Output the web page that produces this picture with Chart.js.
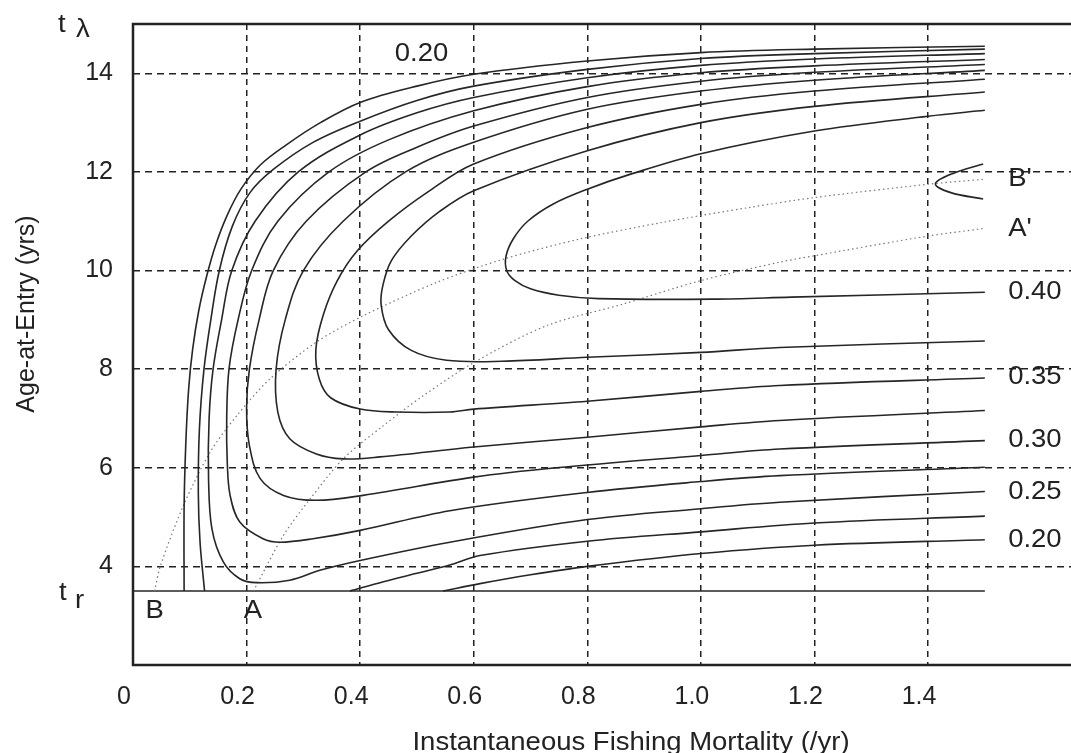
<!DOCTYPE html>
<html>
<head>
<meta charset="utf-8">
<script src="https://cdn.jsdelivr.net/npm/chart.js@4.4.0/dist/chart.umd.min.js"></script>
<style>
  html, body { margin: 0; padding: 0; background: #fff; }
  #wrap { width: 1071px; height: 753px; }
</style>
</head>
<body>
<div id="wrap"><canvas id="ypr" width="1071" height="753"></canvas></div>
<script>
// axis ticks
const xTicks = [0, 0.2, 0.4, 0.6, 0.8, 1.0, 1.2, 1.4];
const yTicks = [4, 6, 8, 10, 12, 14];
const tr = 3.5;

// yield-per-recruit isopleths, points are [F, age-at-entry]
const iso20a = [[1.5,14.55],[1.2,14.49],[1.0,14.42],[0.8,14.25],[0.6,13.98],[0.5,13.74],[0.4,13.41],[0.33,13.0],[0.27,12.55],[0.225,12.15],[0.19,11.65],[0.165,11.1],[0.145,10.5],[0.13,9.9],[0.116,9.2],[0.105,8.4],[0.098,7.6],[0.093,6.5],[0.09,5.2],[0.09,3.5]];
const iso20b = [[0.546,3.5],[0.611,3.65],[0.7,3.83],[0.8,4.0],[1.0,4.26],[1.2,4.43],[1.5,4.54]];
const iso225a = [[1.5,14.49],[1.2,14.4],[1.0,14.3],[0.8,14.08],[0.6,13.74],[0.5,13.45],[0.4,13.03],[0.317,12.6],[0.247,12.05],[0.206,11.58],[0.175,10.9],[0.152,10.0],[0.137,9.0],[0.125,8.0],[0.117,6.8],[0.115,5.5],[0.118,4.5],[0.126,3.5]];
const iso225b = [[0.382,3.5],[0.441,3.69],[0.5,3.86],[0.558,4.03],[0.611,4.22],[0.8,4.51],[1.0,4.7],[1.2,4.88],[1.5,5.02]];
const iso25 = [[1.5,14.4],[1.2,14.29],[1.0,14.16],[0.8,13.91],[0.6,13.51],[0.5,13.2],[0.4,12.75],[0.291,12.0],[0.215,11.0],[0.174,10.0],[0.156,9.0],[0.141,8.0],[0.134,7.0],[0.133,5.8],[0.139,4.76],[0.159,4.09],[0.188,3.75],[0.218,3.67],[0.276,3.72],[0.329,3.92],[0.4,4.12],[0.558,4.49],[0.8,4.95],[1.0,5.17],[1.139,5.3],[1.5,5.52]];
const iso275 = [[1.5,14.28],[1.2,14.15],[1.0,14.01],[0.8,13.73],[0.6,13.24],[0.45,12.65],[0.345,12.0],[0.255,11.0],[0.209,10.0],[0.185,9.0],[0.169,8.0],[0.165,7.0],[0.166,6.11],[0.171,5.44],[0.188,4.9],[0.229,4.56],[0.259,4.49],[0.317,4.56],[0.4,4.73],[0.558,5.13],[0.8,5.5],[1.0,5.72],[1.139,5.84],[1.5,6.01]];
const iso30 = [[1.5,14.18],[1.2,14.02],[1.0,13.84],[0.8,13.51],[0.6,12.93],[0.5,12.5],[0.41,12.0],[0.305,11.0],[0.247,10.0],[0.222,9.0],[0.205,8.0],[0.2,7.2],[0.205,6.45],[0.224,5.78],[0.265,5.44],[0.323,5.34],[0.405,5.44],[0.6,5.81],[0.745,6.0],[1.0,6.25],[1.139,6.38],[1.5,6.55]];
const iso325 = [[1.5,14.06],[1.2,13.86],[1.0,13.64],[0.8,13.27],[0.6,12.6],[0.48,12.0],[0.37,11.0],[0.3,10.0],[0.268,9.0],[0.252,8.0],[0.255,7.13],[0.276,6.59],[0.323,6.28],[0.37,6.18],[0.435,6.22],[0.6,6.42],[0.8,6.62],[1.0,6.83],[1.139,6.96],[1.5,7.16]];
const iso35 = [[1.5,13.88],[1.2,13.64],[1.0,13.37],[0.8,12.9],[0.6,12.16],[0.52,11.6],[0.45,11.0],[0.395,10.4],[0.36,9.8],[0.335,9.1],[0.322,8.4],[0.328,7.8],[0.348,7.42],[0.4,7.19],[0.464,7.13],[0.558,7.13],[0.6,7.19],[0.8,7.35],[1.0,7.55],[1.139,7.67],[1.5,7.82]];
const iso375 = [[1.5,13.62],[1.2,13.33],[1.0,13.0],[0.8,12.43],[0.6,11.62],[0.54,11.2],[0.49,10.7],[0.455,10.2],[0.44,9.7],[0.437,9.3],[0.45,8.8],[0.49,8.38],[0.552,8.18],[0.65,8.16],[0.8,8.24],[1.0,8.34],[1.139,8.44],[1.5,8.57]];
const iso40 = [[1.5,13.25],[1.4,13.13],[1.2,12.83],[1.0,12.37],[0.875,11.95],[0.8,11.65],[0.74,11.35],[0.695,11.0],[0.67,10.65],[0.657,10.3],[0.658,10.0],[0.672,9.8],[0.7,9.63],[0.75,9.5],[0.82,9.43],[1.02,9.42],[1.159,9.46],[1.5,9.56]];
const iso425 = [[1.497,12.16],[1.444,11.97],[1.413,11.76],[1.44,11.58],[1.497,11.45]];

// eumetric curves (dotted)
const curveB = [[0.038,3.5],[0.048,4.0],[0.089,5.24],[0.136,6.32],[0.183,7.06],[0.241,7.8],[0.323,8.55],[0.405,9.08],[0.535,9.76],[0.652,10.23],[0.787,10.64],[0.934,10.98],[1.086,11.28],[1.2,11.48],[1.4,11.75],[1.497,11.85]];
const curveA = [[0.212,3.5],[0.265,4.63],[0.312,5.37],[0.37,6.18],[0.437,6.82],[0.511,7.46],[0.601,8.14],[0.728,8.88],[0.863,9.32],[0.998,9.79],[1.139,10.17],[1.2,10.3],[1.4,10.7],[1.497,10.85]];

const recruitLine = [[0, tr], [1.5, tr]];

// text annotations at data positions
const isoLabels = [
  { text: '0.20', x: 0.461, y: 14.38 },
  { text: "B'", x: 1.541, y: 11.85 },
  { text: "A'", x: 1.541, y: 10.84 },
  { text: '0.40', x: 1.541, y: 9.56 },
  { text: '0.35', x: 1.541, y: 7.84 },
  { text: '0.30', x: 1.541, y: 6.57 },
  { text: '0.25', x: 1.541, y: 5.51 },
  { text: '0.20', x: 1.541, y: 4.54 }
];
const endLabels = [
  { text: 'B', x: 0.038, y: 3.09 },
  { text: 'A', x: 0.211, y: 3.09 }
];

const FONT = "'Liberation Sans', Arial, sans-serif";
const INK = '#222';

const toXY = (pts) => pts.map(([x, y]) => ({ x, y }));

const solid = (pts) => ({
  data: toXY(pts),
  showLine: true,
  pointRadius: 0,
  borderColor: '#262626',
  borderWidth: 1.6,
  tension: 0.35,
});

const dotted = (pts) => ({
  data: toXY(pts),
  showLine: true,
  pointRadius: 0,
  borderColor: '#777',
  borderWidth: 1.2,
  borderDash: [1.5, 3],
  tension: 0.3,
});

const datasets = [
  iso20a, iso20b, iso225a, iso225b, iso25, iso275, iso30,
  iso325, iso35, iso375, iso40, iso425,
].map(solid);
datasets.push(dotted(curveB), dotted(curveA));
datasets.push({ ...solid(recruitLine), tension: 0 });

// draw text stretched a little horizontally, like the scanned figure
function stretchedText(ctx, text, x, y, align) {
  ctx.save();
  ctx.translate(x, y);
  ctx.scale(1.1, 1);
  ctx.textAlign = align;
  ctx.fillText(text, 0, 0);
  ctx.restore();
}

const annotations = {
  id: 'annotations',
  afterDraw(chart) {
    const { ctx, chartArea: area, scales: { x, y } } = chart;
    ctx.save();

    // plot frame (right side runs off the figure)
    ctx.strokeStyle = INK;
    ctx.lineWidth = 2.5;
    ctx.beginPath();
    ctx.moveTo(chart.width, area.top);
    ctx.lineTo(area.left, area.top);
    ctx.lineTo(area.left, area.bottom);
    ctx.lineTo(chart.width, area.bottom);
    ctx.stroke();

    ctx.fillStyle = INK;
    ctx.font = `25px ${FONT}`;
    ctx.textBaseline = 'middle';
    isoLabels.forEach((l) => {
      stretchedText(ctx, l.text, x.getPixelForValue(l.x), y.getPixelForValue(l.y), 'left');
    });
    endLabels.forEach((l) => {
      stretchedText(ctx, l.text, x.getPixelForValue(l.x), y.getPixelForValue(l.y), 'center');
    });

    // t-lambda and t-r marks
    ctx.textBaseline = 'alphabetic';
    const top = y.getPixelForValue(15);
    stretchedText(ctx, 't', area.left - 75, top + 8, 'left');
    stretchedText(ctx, 'λ', area.left - 57, top + 13, 'left');
    const trPx = y.getPixelForValue(tr);
    stretchedText(ctx, 't', area.left - 74, trPx + 9, 'left');
    stretchedText(ctx, 'r', area.left - 58, trPx + 17, 'left');

    // axis titles
    stretchedText(ctx, 'Instantaneous Fishing Mortality (/yr)', 631, 750, 'center');
    ctx.save();
    ctx.translate(27, 314);
    ctx.rotate(-Math.PI / 2);
    ctx.textAlign = 'center';
    ctx.textBaseline = 'middle';
    ctx.fillText('Age-at-Entry (yrs)', 0, 0);
    ctx.restore();

    ctx.restore();
  },
};

const noOverflow = (scale) => {
  scale.paddingTop = 0;
  scale.paddingBottom = 0;
  scale.paddingLeft = 0;
  scale.paddingRight = 0;
};

new Chart(document.getElementById('ypr'), {
  type: 'scatter',
  data: { datasets },
  plugins: [annotations],
  options: {
    responsive: false,
    animation: false,
    events: [],
    layout: { padding: { top: 24, right: 0, left: 0, bottom: 0 } },
    plugins: {
      legend: { display: false },
      tooltip: { enabled: false },
    },
    scales: {
      x: {
        type: 'linear',
        min: 0,
        max: 1.6517,
        afterBuildTicks: (scale) => { scale.ticks = xTicks.map((v) => ({ value: v })); },
        afterFit: (scale) => { scale.height = 88; noOverflow(scale); },
        grid: { color: INK, lineWidth: 1.5, drawTicks: false },
        border: { display: false, dash: [6, 5] },
        ticks: {
          color: INK,
          font: { family: FONT, size: 25 },
          padding: 17,
          labelOffset: -9,
          maxRotation: 0,
          callback: (v) => (v === 0 ? '0' : v.toFixed(1)),
        },
      },
      y: {
        type: 'linear',
        min: 2,
        max: 15,
        afterBuildTicks: (scale) => { scale.ticks = yTicks.map((v) => ({ value: v })); },
        afterFit: (scale) => { scale.width = 133; noOverflow(scale); },
        grid: { color: INK, lineWidth: 1.5, drawTicks: false },
        border: { display: false, dash: [7, 5] },
        ticks: {
          color: INK,
          font: { family: FONT, size: 25 },
          padding: 20,
          callback: (v) => String(v),
        },
      },
    },
  },
});
</script>
</body>
</html>
